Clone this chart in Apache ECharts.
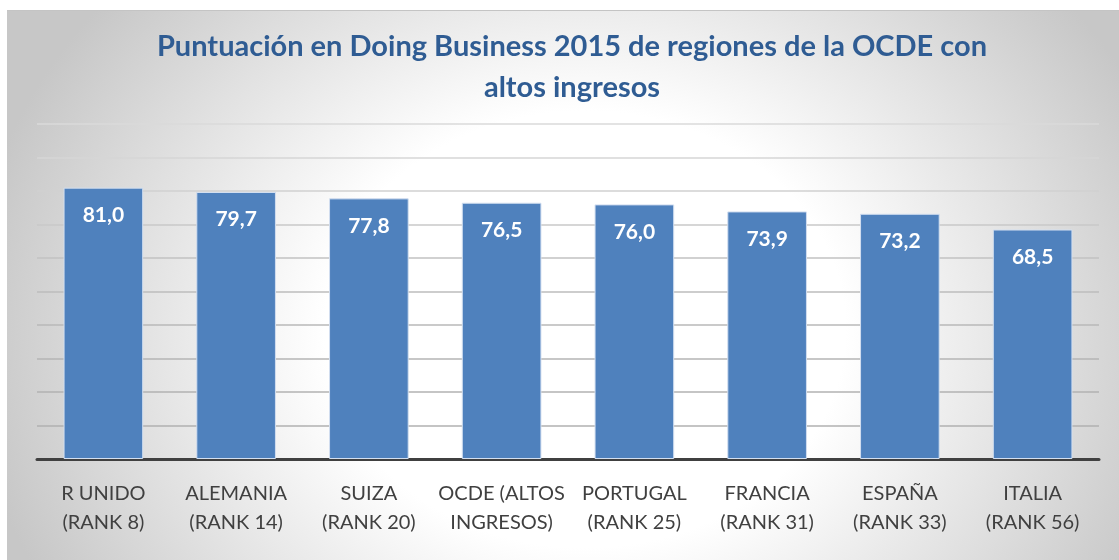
<!DOCTYPE html>
<html>
<head>
<meta charset="utf-8">
<script src="https://cdn.jsdelivr.net/npm/echarts@6/dist/echarts.min.js"></script>
<style>
html,body{margin:0;padding:0;background:#ffffff;width:1119px;height:560px;overflow:hidden;}
#chart{position:absolute;left:7px;top:10px;width:1112px;height:550px;
  background:radial-gradient(ellipse 620px 520px at 52% 58%, #ffffff 0%, #ffffff 42%, #c7c7c7 100%);
  border-top:1px solid #c4c4c4;box-sizing:border-box;}
</style>
</head>
<body>
<div id="chart"></div>
<script>
const titleText = 'Puntuación en Doing Business 2015 de regiones de la OCDE con\naltos ingresos';
const categories = ['R UNIDO\n(RANK 8)', 'ALEMANIA\n(RANK 14)', 'SUIZA\n(RANK 20)', 'OCDE (ALTOS\nINGRESOS)', 'PORTUGAL\n(RANK 25)', 'FRANCIA\n(RANK 31)', 'ESPAÑA\n(RANK 33)', 'ITALIA\n(RANK 56)'];
const scores = [81.0, 79.7, 77.8, 76.5, 76.0, 73.9, 73.2, 68.5];

const chart = echarts.init(document.getElementById('chart'), null, {renderer: 'canvas'});
chart.setOption({
  animation: false,
  backgroundColor: 'transparent',
  title: {
    text: titleText,
    left: 560, top: 10, textAlign: 'center',
    textStyle: {fontFamily: 'Lato', fontWeight: 'bold', fontSize: 29, color: '#2f5c93', lineHeight: 41}
  },
  grid: {left: 30, right: 20, top: 113, bottom: 101, containLabel: false},
  xAxis: {
    type: 'category', data: categories,
    axisLine: {lineStyle: {color: '#404040', width: 3}},
    axisTick: {show: false},
    axisLabel: {interval: 0, margin: 20, fontFamily: 'Lato', fontSize: 20, color: '#404040', lineHeight: 29}
  },
  yAxis: {
    type: 'value', min: 0, max: 100, interval: 10,
    axisLabel: {show: false}, axisLine: {show: false}, axisTick: {show: false},
    splitLine: {lineStyle: {color: ['#b0b0b0', '#b0b0b0', '#b2b2b2', '#b4b4b4', '#b8b8b8', '#bcbcbc', '#c2c2c2', '#c8c8c8', '#d0d0d0', '#d6d6d6', '#dadada'], width: 1.5}}
  },
  series: [{
    type: 'bar', data: scores, barWidth: '60%',
    itemStyle: {color: '#4f81bd', borderColor: '#d3dff0', borderWidth: 1},
    label: {
      show: true, position: 'insideTop', distance: 17,
      fontFamily: 'Lato', fontWeight: 'bold', fontSize: 21, color: '#ffffff',
      formatter: p => p.value.toFixed(1).replace('.', ',')
    }
  }]
});
</script>
</body>
</html>
